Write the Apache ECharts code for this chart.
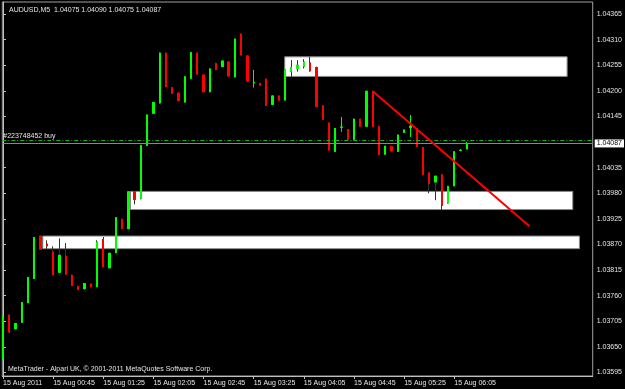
<!DOCTYPE html>
<html><head><meta charset="utf-8">
<script src="https://cdn.jsdelivr.net/npm/echarts@6/dist/echarts.min.js"></script>
<style>html,body{margin:0;padding:0;background:#000;}#c{width:625px;height:389px;}</style>
</head><body><div id="c"></div>
<script>
// ---- data ----
const symbolName = 'AUDUSD,M5';
const copyrightText = 'MetaTrader - Alpari UK, \u00a9 2001-2011 MetaQuotes Software Corp.';
const open  = [1.03625,1.03718,1.03689,1.03703,1.03745,1.03797,1.03888,1.03871,1.03854,1.03810,
               1.03845,1.03804,1.03780,1.03775,1.03785,1.03779,1.03881,1.03820,1.03852,1.03924,
               1.03904,1.03983,1.03969,1.04083,1.04152,1.04174,1.04281,1.04207,1.04195,1.04176,
               1.04227,1.04281,1.04234,1.04198,1.04259,1.04252,1.04262,1.04230,1.04322,1.04275,
               1.04217,1.04216,1.04225,1.04171,1.04189,1.04180,1.04242,1.04248,1.04253,1.04260,
               1.04250,1.04168,1.04131,1.04070,1.04122,1.04117,1.04096,1.04139,1.04124,1.04199,
               1.04123,1.04064,1.04080,1.04070,1.04111,1.04121,1.04119,1.04078,1.04024,1.04004,
               1.04020,1.03959,1.03996,1.04072,1.04075];
const close = [1.03714,1.03682,1.03700,1.03745,1.03799,1.03885,1.03860,1.03867,1.03805,1.03847,
               1.03806,1.03782,1.03773,1.03786,1.03779,1.03875,1.03822,1.03851,1.03928,1.03904,
               1.03983,1.03967,1.04083,1.04148,1.04175,1.04281,1.04209,1.04195,1.04179,1.04230,
               1.04282,1.04236,1.04198,1.04247,1.04246,1.04264,1.04232,1.04311,1.04277,1.04221,
               1.04218,1.04212,1.04169,1.04189,1.04180,1.04245,1.04250,1.04255,1.04262,1.04243,
               1.04166,1.04139,1.04073,1.04119,1.04122,1.04096,1.04139,1.04124,1.04199,1.04123,
               1.04063,1.04081,1.04071,1.04105,1.04116,1.04124,1.04081,1.04020,1.04001,1.04017,
               1.03954,1.03995,1.04069,1.04072,1.04087];
const low   = [1.03622,1.03680,1.03688,1.03702,1.03744,1.03796,1.03859,1.03860,1.03803,1.03808,
               1.03804,1.03781,1.03772,1.03774,1.03778,1.03778,1.03821,1.03819,1.03851,1.03903,
               1.03903,1.03956,1.03967,1.04082,1.04151,1.04173,1.04208,1.04194,1.04178,1.04175,
               1.04226,1.04235,1.04197,1.04197,1.04245,1.04251,1.04231,1.04229,1.04276,1.04220,
               1.04207,1.04211,1.04168,1.04170,1.04179,1.04179,1.04229,1.04241,1.04248,1.04241,
               1.04165,1.04138,1.04072,1.04069,1.04112,1.04095,1.04095,1.04123,1.04123,1.04122,
               1.04062,1.04063,1.04070,1.04069,1.04110,1.04101,1.04080,1.04019,1.03980,1.03965,
               1.03944,1.03958,1.03995,1.04070,1.04075];
const high  = [1.03716,1.03720,1.03701,1.03746,1.03800,1.03886,1.03889,1.03879,1.03866,1.03883,
               1.03873,1.03805,1.03781,1.03787,1.03786,1.03879,1.03886,1.03852,1.03929,1.03925,
               1.03984,1.03984,1.04084,1.04149,1.04176,1.04282,1.04282,1.04208,1.04196,1.04231,
               1.04283,1.04282,1.04235,1.04248,1.04260,1.04265,1.04263,1.04312,1.04323,1.04276,
               1.04245,1.04217,1.04226,1.04190,1.04190,1.04246,1.04266,1.04266,1.04268,1.04273,
               1.04252,1.04169,1.04132,1.04120,1.04144,1.04118,1.04140,1.04140,1.04200,1.04200,
               1.04124,1.04082,1.04081,1.04106,1.04117,1.04148,1.04120,1.04079,1.04025,1.04018,
               1.04021,1.03996,1.04070,1.04075,1.04090];
const xTickBars   = [0, 8, 16, 24, 32, 40, 48, 56, 64, 72];
const xTickLabels = ['15 Aug 2011','15 Aug 00:45','15 Aug 01:25','15 Aug 02:05','15 Aug 02:45',
                     '15 Aug 03:25','15 Aug 04:05','15 Aug 04:45','15 Aug 05:25','15 Aug 06:05'];
const yTickLabels = ['1.03595','1.03650','1.03705','1.03760','1.03815','1.03870','1.03925',
                     '1.03980','1.04035','1.04145','1.04200','1.04255','1.04310','1.04365'];
const bidPrice = 1.04087;
const orderPrice = 1.04093;
const orderLabel = '#223748452 buy';
// zones: bar index from/to, price top/bottom
const zoneFrom   = [44.95, 20.33, 6.35];
const zoneTo     = [90.0, 90.9, 91.96];
const zoneTop    = [1.04273, 1.03984, 1.03888];
const zoneBottom = [1.04231, 1.03945, 1.03861];
const trendBars   = [59, 84];
const trendPrices = [1.04199, 1.03909];

// ---- chart ----
const X_MIN = -0.111, X_MAX = 94.08;
const last = open.length - 1;
const fmt = v => v.toFixed(5);
const titleText = symbolName + '  ' + fmt(open[last]) + ' ' + fmt(high[last]) + ' ' + fmt(low[last]) + ' ' + fmt(close[last]);
const FONT = "'Liberation Sans', Arial, sans-serif";
const TXT = '#e6e6e6';
const AX = '#c0c0c0';
const UP = '#00ff00', DN = '#ff0000';

function inZone(i) {
  for (let z = 0; z < zoneFrom.length; z++) {
    if (i >= zoneFrom[z] && i <= zoneTo[z] && high[i] >= zoneBottom[z] && low[i] <= zoneTop[z]) return true;
  }
  return false;
}
// wick layer (full high/low)
const wickData = open.map((o, i) => {
  const item = { value: [i, o, close[i], low[i], high[i]] };
  if (inZone(i)) item.itemStyle = { borderColor: '#333333', borderColor0: '#333333', borderColorDoji: '#333333' };
  return item;
});
// body layer (open/close only)
const bodyData = open.map((o, i) => [i, o, close[i], Math.min(o, close[i]), Math.max(o, close[i])]);

const chart = echarts.init(document.getElementById('c'), null, { renderer: 'canvas' });
chart.setOption({
  backgroundColor: '#000000',
  animation: false,
  textStyle: { fontFamily: FONT },
  title: [
    { text: titleText, left: 4, top: 2, textStyle: { color: TXT, fontSize: 7, fontWeight: 'normal', fontFamily: FONT } },
    { text: copyrightText, left: 3, top: 361, textStyle: { color: TXT, fontSize: 7, fontWeight: 'normal', fontFamily: FONT } }
  ],
  grid: { left: 2, top: 2, width: 593, height: 374, show: true, borderColor: '#a0a0a0', borderWidth: 1, backgroundColor: 'transparent' },
  xAxis: {
    type: 'value', min: X_MIN, max: X_MAX, position: 'bottom',
    axisLine: { show: true, lineStyle: { color: AX, width: 1 } },
    axisTick: { show: true, customValues: xTickBars, length: 3, lineStyle: { color: AX } },
    axisLabel: { customValues: xTickBars, formatter: v => xTickLabels[xTickBars.indexOf(Math.round(v))] || '',
                 align: 'left', color: TXT, fontSize: 7, margin: 4, fontFamily: FONT },
    splitLine: { show: false }
  },
  yAxis: {
    type: 'value', position: 'right', min: 1.035875, max: 1.043908, scale: true,
    axisLine: { show: true, lineStyle: { color: AX, width: 1 } },
    axisTick: { show: true, customValues: yTickLabels.map(Number), length: 3, lineStyle: { color: AX } },
    axisLabel: { customValues: yTickLabels.map(Number), formatter: v => fmt(v), color: TXT, fontSize: 7, margin: 4, fontFamily: FONT },
    splitLine: { show: false }
  },
  series: [{
    name: 'wicks',
    type: 'candlestick',
    z: 2,
    data: wickData,
    barWidth: 1.8,
    itemStyle: { color: UP, color0: DN, borderColor: UP, borderColor0: DN, borderColorDoji: UP, borderWidth: 1 },
    markArea: {
      silent: true,
      label: { show: false },
      itemStyle: { color: '#ffffff', borderColor: '#8a8a8a', borderWidth: 1, opacity: 1 },
      data: zoneFrom.map((f, z) => [{ coord: [f, zoneTop[z]] }, { coord: [zoneTo[z], zoneBottom[z]] }])
    }
  }, {
    name: 'bodies',
    type: 'candlestick',
    z: 3,
    data: bodyData,
    barWidth: 1.8,
    itemStyle: { color: UP, color0: DN, borderColor: UP, borderColor0: DN, borderColorDoji: UP, borderWidth: 1 },
    markLine: {
      silent: true,
      symbol: ['none', 'none'],
      animation: false,
      data: [
        [ { coord: [X_MIN, orderPrice], lineStyle: { color: '#1fb31f', type: [4, 2, 1, 2], width: 1 },
            label: { show: true, position: 'insideStartTop', formatter: orderLabel, color: TXT, fontSize: 7, distance: 1, fontFamily: FONT } },
          { coord: [X_MAX, orderPrice] } ],
        [ { coord: [X_MIN, bidPrice], lineStyle: { color: '#7a8a9a', type: 'solid', width: 1 },
            label: { show: true, position: 'end', formatter: fmt(bidPrice), color: '#000', backgroundColor: '#ffffff',
                     padding: [1, 2, 0, 2], fontSize: 7, distance: 2, fontFamily: FONT } },
          { coord: [X_MAX, bidPrice] } ],
        [ { coord: [trendBars[0], trendPrices[0]], lineStyle: { color: '#ff0000', width: 2, type: 'solid' }, label: { show: false } },
          { coord: [trendBars[1], trendPrices[1]] } ]
      ]
    }
  }]
});
</script>
</body></html>
